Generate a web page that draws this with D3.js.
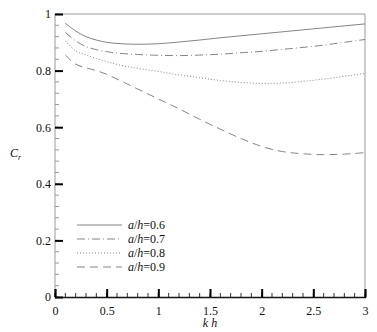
<!DOCTYPE html>
<html>
<head>
<meta charset="utf-8">
<script src="https://cdn.jsdelivr.net/npm/d3@7"></script>
<style>
  body { margin: 0; background: #fff; }
  svg text { font-family: "Liberation Serif", "Times New Roman", serif; font-size: 12px; fill: #111; }
</style>
</head>
<body>
<script>
// kh values and the four Cr curves
var kh = [0.1, 0.2, 0.3, 0.4, 0.5, 0.6, 0.8, 1.0, 1.2, 1.4, 1.6, 1.8, 2.0, 2.2, 2.4, 2.6, 2.8, 3.0];
var cr06 = [0.967, 0.94, 0.92, 0.908, 0.9, 0.896, 0.893, 0.895, 0.901, 0.908, 0.916, 0.923, 0.93, 0.937, 0.944, 0.951, 0.958, 0.965];
var cr07 = [0.935, 0.905, 0.885, 0.874, 0.867, 0.862, 0.857, 0.854, 0.853, 0.855, 0.858, 0.863, 0.868, 0.875, 0.882, 0.89, 0.9, 0.91];
var cr08 = [0.905, 0.87, 0.855, 0.843, 0.832, 0.822, 0.808, 0.797, 0.785, 0.775, 0.765, 0.758, 0.755, 0.756, 0.762, 0.77, 0.78, 0.79];
var cr09 = [0.855, 0.823, 0.81, 0.8, 0.787, 0.77, 0.735, 0.7, 0.665, 0.628, 0.593, 0.56, 0.532, 0.514, 0.506, 0.503, 0.505, 0.51];
var labels = ["0.6", "0.7", "0.8", "0.9"];
var xTicks = [0, 0.5, 1, 1.5, 2, 2.5, 3];
var yTicks = [0, 0.2, 0.4, 0.6, 0.8, 1];

var w = 377, h = 332;
var mLeft = 55, mRight = 365, mTop = 14, mBottom = 297;

var series = [cr06, cr07, cr08, cr09];
var dashes = ["none", "8,3,1,3", "1,2", "8,5"];

var x = d3.scaleLinear().domain([0, 3]).range([mLeft, mRight]);
var y = d3.scaleLinear().domain([0, 1]).range([mBottom, mTop]);

var svg = d3.select("body").append("svg")
  .attr("width", w)
  .attr("height", h);

// frame
svg.append("line").attr("x1", mLeft).attr("x2", mRight).attr("y1", mTop).attr("y2", mTop)
  .attr("stroke", "#999").attr("stroke-width", 1);
svg.append("line").attr("x1", mRight).attr("x2", mRight).attr("y1", mTop).attr("y2", mBottom)
  .attr("stroke", "#999").attr("stroke-width", 1);
svg.append("line").attr("x1", mLeft).attr("x2", mLeft).attr("y1", mTop).attr("y2", mBottom)
  .attr("stroke", "#999").attr("stroke-width", 1);

// minor ticks (inward)
var xMinor = d3.range(0, 31).map(function(i) { return i / 10; });
var yMinor = d3.range(0, 26).map(function(i) { return i * 0.04; });
svg.selectAll(".xminor").data(xMinor).enter().append("line")
  .attr("x1", function(d) { return x(d); }).attr("x2", function(d) { return x(d); })
  .attr("y1", mBottom).attr("y2", mBottom - 4)
  .attr("stroke", "#333").attr("stroke-width", 1);
svg.selectAll(".yminor").data(yMinor).enter().append("line")
  .attr("y1", function(d) { return y(d); }).attr("y2", function(d) { return y(d); })
  .attr("x1", mLeft).attr("x2", mLeft + 4)
  .attr("stroke", "#999").attr("stroke-width", 1);

// x axis
var xAxis = d3.axisBottom(x).tickValues(xTicks).tickSize(-8).tickPadding(9)
  .tickFormat(function(d) { return d; });
var gx = svg.append("g").attr("transform", "translate(0," + mBottom + ")").call(xAxis);
gx.attr("font-family", null).attr("font-size", null);
gx.select(".domain").attr("stroke", "#111").attr("stroke-width", 1.5);
gx.selectAll(".tick line").attr("stroke", "#000").attr("stroke-width", 2);
gx.selectAll("text").attr("fill", null);

// y axis
var yAxis = d3.axisLeft(y).tickValues(yTicks).tickSize(-8).tickPadding(4)
  .tickFormat(function(d) { return d; });
var gy = svg.append("g").attr("transform", "translate(" + mLeft + ",0)").call(yAxis);
gy.attr("font-family", null).attr("font-size", null);
gy.select(".domain").remove();
gy.selectAll(".tick line").attr("stroke", "#000").attr("stroke-width", 2);
gy.selectAll("text").attr("fill", null);

// curves
var line = d3.line()
  .x(function(d) { return x(d[0]); })
  .y(function(d) { return y(d[1]); })
  .curve(d3.curveMonotoneX);

series.forEach(function(s, i) {
  svg.append("path")
    .datum(kh.map(function(k, j) { return [k, s[j]]; }))
    .attr("d", line)
    .attr("fill", "none")
    .attr("stroke", "#777")
    .attr("stroke-width", 0.9)
    .attr("stroke-dasharray", dashes[i]);
});

// legend
var legend = svg.selectAll(".legend").data(labels).enter().append("g")
  .attr("transform", function(d, i) { return "translate(77," + (225 + i * 14) + ")"; });
legend.append("line")
  .attr("x1", 0).attr("x2", 45).attr("y1", 0).attr("y2", 0)
  .attr("stroke", "#777").attr("stroke-width", 0.9)
  .attr("stroke-dasharray", function(d, i) { return dashes[i]; });
var lt = legend.append("text").attr("x", 51).attr("y", 4);
lt.append("tspan").attr("font-style", "italic").text("a");
lt.append("tspan").text("/");
lt.append("tspan").attr("font-style", "italic").text("h");
lt.append("tspan").text(function(d) { return "=" + d; });

// axis titles
svg.append("text").attr("x", x(1.5)).attr("y", 327).attr("text-anchor", "middle")
  .attr("font-style", "italic").text("k h");
var yl = svg.append("text").attr("x", 10).attr("y", 157);
yl.append("tspan").attr("font-style", "italic").text("C");
yl.append("tspan").attr("font-style", "italic").attr("font-size", "8px").attr("dy", 3).text("r");
</script>
</body>
</html>
